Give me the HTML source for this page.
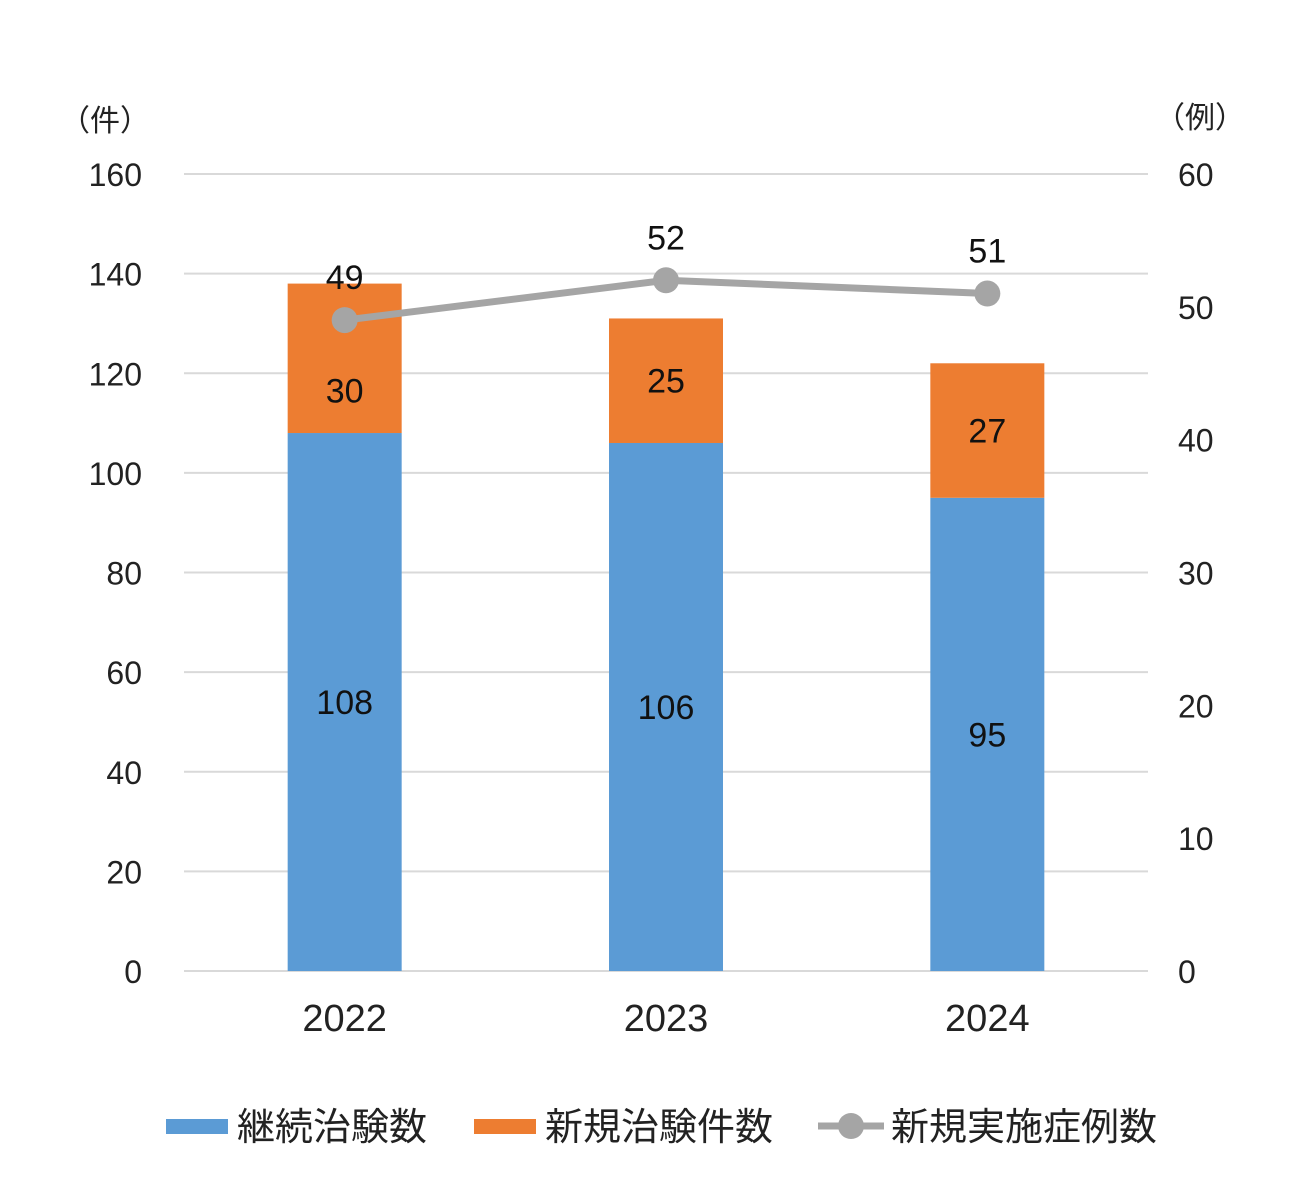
<!DOCTYPE html>
<html><head><meta charset="utf-8"><style>
body{margin:0;background:#fff;}
svg{display:block;font-family:"Liberation Sans","Noto Sans CJK JP",sans-serif;}
</style></head><body>
<svg id="chart" width="1300" height="1193" viewBox="0 0 1300 1193"></svg>
<script>
const categories=["2022","2023","2024"];
const continuing=[108,106,95];
const newTrials=[30,25,27];
const newCases=[49,52,51];
const leftTicks=[0,20,40,60,80,100,120,140,160];
const rightTicks=[0,10,20,30,40,50,60];

const svg=document.getElementById('chart');
const NS='http://www.w3.org/2000/svg';
const x0=184,x1=1148,yBase=971,yTop=174;
const yL=v=>yBase-(v/160)*(yBase-yTop);
const yR=v=>yBase-(v/60)*(yBase-yTop);
const band=(x1-x0)/categories.length;
const xC=i=>x0+band*(i+0.5);
const bw=114;
function el(t,a,txt){const e=document.createElementNS(NS,t);for(const k in a)e.setAttribute(k,a[k]);if(txt!==undefined)e.textContent=txt;svg.appendChild(e);return e;}

leftTicks.forEach(v=>{
  const g=el('line',{x1:x0,x2:x1,y1:yL(v),y2:yL(v),stroke:'#d9d9d9','stroke-width':2});
  
  
  const t=el('text',{x:142,y:yL(v)+12,'text-anchor':'end','font-size':32,fill:'#222'},v);
  
  
});
rightTicks.forEach(v=>{
  const t=el('text',{x:1178,y:yR(v)+12,'font-size':32,fill:'#222'},v);
  
  
});
const u1=el('text',{x:60,y:131,'font-size':30,fill:'#222'},'（件）');


const u2=el('text',{x:1155,y:128,'font-size':30,fill:'#222'},'（例）');



categories.forEach((c,i)=>{
  const cx=xC(i);
  const b=el('rect',{x:cx-bw/2,y:yL(continuing[i]),width:bw,height:yBase-yL(continuing[i]),fill:'#5b9bd5'});
  
  
  const o=el('rect',{x:cx-bw/2,y:yL(continuing[i]+newTrials[i]),width:bw,height:yL(continuing[i])-yL(continuing[i]+newTrials[i]),fill:'#ed7d31'});
  
  
  const l1=el('text',{x:cx,y:(yL(continuing[i])+yBase)/2+12,'text-anchor':'middle','font-size':34,fill:'#111'},continuing[i]);
  
  
  const off=(i===0)?32:0;
  const l2=el('text',{x:cx,y:(yL(continuing[i])+yL(continuing[i]+newTrials[i]))/2+12+off,'text-anchor':'middle','font-size':34,fill:'#111'},newTrials[i]);
  
  
  const xl=el('text',{x:cx,y:1031,'text-anchor':'middle','font-size':38,fill:'#222'},c);
  
  
});
const pts=newCases.map((v,i)=>xC(i)+','+yR(v)).join(' ');
const pl=el('polyline',{points:pts,fill:'none',stroke:'#a5a5a5','stroke-width':7});


newCases.forEach((v,i)=>{
  const c=el('circle',{cx:xC(i),cy:yR(v),r:13,fill:'#a5a5a5'});
  
  
  const t=el('text',{x:xC(i),y:yR(v)-31,'text-anchor':'middle','font-size':34,fill:'#111'},v);
  
  
});

let r=el('rect',{x:166,y:1119,width:62,height:15,fill:'#5b9bd5'});


let t=el('text',{x:237,y:1140,'font-size':38,fill:'#222'},'継続治験数');


r=el('rect',{x:474,y:1119,width:62,height:15,fill:'#ed7d31'});


t=el('text',{x:545,y:1140,'font-size':38,fill:'#222'},'新規治験件数');


r=el('line',{x1:818,x2:884,y1:1126,y2:1126,stroke:'#a5a5a5','stroke-width':7});


r=el('circle',{cx:851,cy:1126,r:13,fill:'#a5a5a5'});


t=el('text',{x:891,y:1140,'font-size':38,fill:'#222'},'新規実施症例数');


</script>
</body></html>
